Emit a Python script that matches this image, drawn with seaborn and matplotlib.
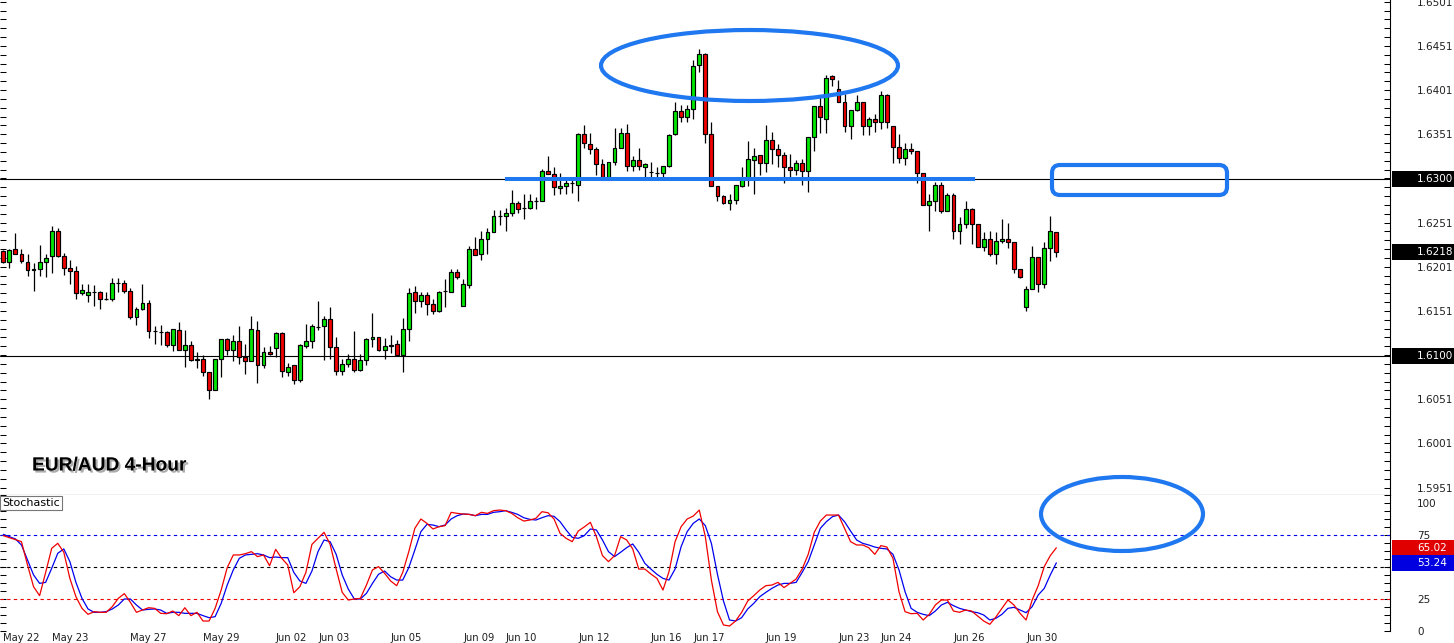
import numpy as np
import pandas as pd
import matplotlib
matplotlib.use('Agg')
import matplotlib.pyplot as plt
import matplotlib.transforms as mtransforms
from matplotlib import patheffects as pe
from matplotlib.patches import Ellipse, FancyBboxPatch, Rectangle
from matplotlib.ticker import FixedLocator, FixedFormatter, MultipleLocator, FormatStrFormatter
import seaborn as sns

sns.set_theme(style='white')
plt.rcParams['font.family'] = ['DejaVu Sans']

# EUR/AUD 4-hour candles
opens = [
    1.6219, 1.6207, 1.6221, 1.6216, 1.6207, 1.6197, 1.6198, 1.6207, 1.6213, 1.6242,
    1.6213, 1.6200, 1.6196, 1.6171, 1.6169, 1.6172, 1.6172, 1.6165, 1.6165, 1.6183,
    1.6183, 1.6174, 1.6144, 1.6153, 1.6160, 1.6128, 1.6127, 1.6127, 1.6112, 1.6130,
    1.6107, 1.6113, 1.6095, 1.6097, 1.6082, 1.6061, 1.6097, 1.6119, 1.6107, 1.6117,
    1.6099, 1.6094, 1.6130, 1.6090, 1.6105, 1.6109, 1.6126, 1.6082, 1.6090, 1.6073,
    1.6111, 1.6117, 1.6133, 1.6134, 1.6142, 1.6110, 1.6083, 1.6091, 1.6097, 1.6084,
    1.6095, 1.6119, 1.6122, 1.6107, 1.6111, 1.6114, 1.6101, 1.6131, 1.6172, 1.6162,
    1.6169, 1.6159, 1.6151, 1.6174, 1.6173, 1.6195, 1.6157, 1.6180, 1.6221, 1.6215,
    1.6232, 1.6240, 1.6258, 1.6258, 1.6262, 1.6273, 1.6267, 1.6267, 1.6276, 1.6275,
    1.6310, 1.6306, 1.6290, 1.6292, 1.6296, 1.6294, 1.6351, 1.6340, 1.6334, 1.6317,
    1.6303, 1.6320, 1.6336, 1.6353, 1.6315, 1.6322, 1.6314, 1.6308, 1.6307, 1.6307,
    1.6315, 1.6351, 1.6377, 1.6370, 1.6380, 1.6429, 1.6442, 1.6351, 1.6293, 1.6281,
    1.6273, 1.6277, 1.6293, 1.6301, 1.6322, 1.6327, 1.6318, 1.6344, 1.6334, 1.6328,
    1.6314, 1.6311, 1.6318, 1.6309, 1.6348, 1.6383, 1.6368, 1.6417, 1.6402, 1.6388,
    1.6360, 1.6378, 1.6387, 1.6360, 1.6368, 1.6365, 1.6395, 1.6360, 1.6337, 1.6324,
    1.6334, 1.6332, 1.6307, 1.6271, 1.6275, 1.6294, 1.6264, 1.6282, 1.6241, 1.6249,
    1.6266, 1.6250, 1.6223, 1.6233, 1.6215, 1.6230, 1.6233, 1.6229, 1.6198, 1.6156,
    1.6176, 1.6212, 1.6181, 1.6222, 1.6240]
highs = [
    1.6220, 1.6221, 1.6239, 1.6221, 1.6216, 1.6205, 1.6226, 1.6215, 1.6247, 1.6245,
    1.6217, 1.6209, 1.6202, 1.6181, 1.6182, 1.6180, 1.6174, 1.6173, 1.6188, 1.6188,
    1.6186, 1.6177, 1.6155, 1.6181, 1.6163, 1.6134, 1.6135, 1.6128, 1.6131, 1.6139,
    1.6129, 1.6117, 1.6105, 1.6101, 1.6082, 1.6097, 1.6119, 1.6120, 1.6124, 1.6134,
    1.6114, 1.6145, 1.6140, 1.6110, 1.6111, 1.6127, 1.6127, 1.6092, 1.6090, 1.6114,
    1.6136, 1.6136, 1.6162, 1.6145, 1.6156, 1.6122, 1.6097, 1.6102, 1.6128, 1.6102,
    1.6120, 1.6149, 1.6122, 1.6120, 1.6124, 1.6118, 1.6143, 1.6177, 1.6179, 1.6172,
    1.6172, 1.6164, 1.6174, 1.6187, 1.6198, 1.6198, 1.6187, 1.6224, 1.6235, 1.6241,
    1.6245, 1.6265, 1.6265, 1.6267, 1.6288, 1.6275, 1.6283, 1.6283, 1.6280, 1.6312,
    1.6326, 1.6314, 1.6307, 1.6301, 1.6301, 1.6353, 1.6361, 1.6353, 1.6337, 1.6323,
    1.6320, 1.6358, 1.6358, 1.6363, 1.6326, 1.6335, 1.6319, 1.6320, 1.6314, 1.6315,
    1.6351, 1.6387, 1.6384, 1.6384, 1.6435, 1.6447, 1.6443, 1.6365, 1.6293, 1.6282,
    1.6283, 1.6294, 1.6314, 1.6343, 1.6335, 1.6327, 1.6361, 1.6354, 1.6340, 1.6331,
    1.6329, 1.6322, 1.6323, 1.6348, 1.6383, 1.6396, 1.6418, 1.6418, 1.6412, 1.6397,
    1.6378, 1.6396, 1.6387, 1.6370, 1.6374, 1.6400, 1.6397, 1.6360, 1.6351, 1.6341,
    1.6341, 1.6332, 1.6307, 1.6283, 1.6297, 1.6297, 1.6284, 1.6284, 1.6257, 1.6276,
    1.6267, 1.6250, 1.6240, 1.6241, 1.6240, 1.6255, 1.6251, 1.6229, 1.6198, 1.6179,
    1.6224, 1.6212, 1.6229, 1.6258, 1.6240]
lows = [
    1.6205, 1.6200, 1.6215, 1.6205, 1.6191, 1.6174, 1.6191, 1.6190, 1.6194, 1.6212,
    1.6192, 1.6181, 1.6164, 1.6169, 1.6161, 1.6157, 1.6153, 1.6163, 1.6162, 1.6173,
    1.6171, 1.6142, 1.6135, 1.6152, 1.6120, 1.6114, 1.6113, 1.6110, 1.6106, 1.6107,
    1.6088, 1.6094, 1.6086, 1.6077, 1.6051, 1.6061, 1.6076, 1.6101, 1.6094, 1.6091,
    1.6080, 1.6094, 1.6070, 1.6086, 1.6101, 1.6099, 1.6076, 1.6077, 1.6068, 1.6071,
    1.6109, 1.6109, 1.6130, 1.6095, 1.6097, 1.6079, 1.6079, 1.6088, 1.6082, 1.6083,
    1.6090, 1.6110, 1.6106, 1.6097, 1.6103, 1.6101, 1.6082, 1.6117, 1.6149, 1.6156,
    1.6146, 1.6148, 1.6150, 1.6155, 1.6173, 1.6187, 1.6157, 1.6177, 1.6214, 1.6209,
    1.6216, 1.6240, 1.6248, 1.6241, 1.6258, 1.6262, 1.6255, 1.6266, 1.6266, 1.6275,
    1.6306, 1.6282, 1.6283, 1.6283, 1.6284, 1.6275, 1.6335, 1.6329, 1.6305, 1.6303,
    1.6303, 1.6316, 1.6336, 1.6310, 1.6310, 1.6311, 1.6303, 1.6302, 1.6302, 1.6302,
    1.6314, 1.6350, 1.6365, 1.6365, 1.6368, 1.6421, 1.6341, 1.6293, 1.6275, 1.6272,
    1.6265, 1.6272, 1.6291, 1.6292, 1.6283, 1.6305, 1.6308, 1.6317, 1.6314, 1.6296,
    1.6303, 1.6305, 1.6294, 1.6286, 1.6332, 1.6352, 1.6352, 1.6406, 1.6388, 1.6354,
    1.6346, 1.6377, 1.6350, 1.6350, 1.6354, 1.6357, 1.6358, 1.6318, 1.6319, 1.6316,
    1.6329, 1.6296, 1.6271, 1.6241, 1.6264, 1.6262, 1.6264, 1.6233, 1.6227, 1.6245,
    1.6227, 1.6223, 1.6219, 1.6213, 1.6204, 1.6228, 1.6222, 1.6194, 1.6188, 1.6151,
    1.6176, 1.6173, 1.6177, 1.6208, 1.6212]
closes = [
    1.6207, 1.6220, 1.6216, 1.6208, 1.6197, 1.6199, 1.6207, 1.6211, 1.6242, 1.6213,
    1.6200, 1.6196, 1.6171, 1.6175, 1.6172, 1.6172, 1.6165, 1.6165, 1.6183, 1.6183,
    1.6174, 1.6144, 1.6153, 1.6160, 1.6128, 1.6128, 1.6127, 1.6112, 1.6131, 1.6107,
    1.6113, 1.6095, 1.6097, 1.6082, 1.6061, 1.6097, 1.6119, 1.6107, 1.6117, 1.6099,
    1.6094, 1.6131, 1.6090, 1.6105, 1.6102, 1.6126, 1.6083, 1.6088, 1.6073, 1.6112,
    1.6117, 1.6134, 1.6133, 1.6142, 1.6110, 1.6083, 1.6091, 1.6097, 1.6084, 1.6095,
    1.6119, 1.6122, 1.6107, 1.6111, 1.6113, 1.6101, 1.6131, 1.6171, 1.6162, 1.6169,
    1.6159, 1.6151, 1.6173, 1.6174, 1.6195, 1.6189, 1.6181, 1.6221, 1.6214, 1.6232,
    1.6240, 1.6258, 1.6258, 1.6262, 1.6273, 1.6266, 1.6267, 1.6276, 1.6276, 1.6310,
    1.6306, 1.6291, 1.6292, 1.6296, 1.6296, 1.6351, 1.6341, 1.6334, 1.6317, 1.6303,
    1.6320, 1.6336, 1.6353, 1.6315, 1.6322, 1.6315, 1.6317, 1.6308, 1.6307, 1.6315,
    1.6350, 1.6377, 1.6370, 1.6380, 1.6428, 1.6442, 1.6351, 1.6293, 1.6281, 1.6273,
    1.6277, 1.6294, 1.6301, 1.6323, 1.6326, 1.6318, 1.6344, 1.6334, 1.6328, 1.6314,
    1.6311, 1.6318, 1.6309, 1.6348, 1.6383, 1.6370, 1.6415, 1.6414, 1.6388, 1.6360,
    1.6378, 1.6387, 1.6360, 1.6368, 1.6365, 1.6395, 1.6365, 1.6337, 1.6324, 1.6334,
    1.6332, 1.6307, 1.6271, 1.6276, 1.6294, 1.6264, 1.6282, 1.6241, 1.6249, 1.6266,
    1.6250, 1.6223, 1.6233, 1.6215, 1.6230, 1.6233, 1.6229, 1.6198, 1.6190, 1.6176,
    1.6212, 1.6181, 1.6222, 1.6241, 1.6218]

# stochastic main (red) and signal (blue)
stoch_k = [
    74.5, 72.9, 71.4, 69.8, 51.6, 34.6, 27.6, 45.8, 64.6, 68.5,
    61.5, 41.1, 26.8, 17.7, 13.0, 15.1, 14.6, 14.6, 19.0, 25.5,
    29.2, 22.4, 14.6, 16.4, 18.2, 17.7, 13.8, 13.5, 15.6, 12.0,
    18.2, 12.0, 14.6, 7.8, 7.8, 17.7, 32.0, 49.5, 59.4, 59.4,
    60.4, 62.0, 58.1, 59.4, 51.0, 63.8, 56.8, 51.6, 29.9, 34.6,
    45.8, 67.7, 72.4, 77.1, 67.7, 48.4, 30.2, 24.2, 25.0, 25.5,
    35.9, 47.7, 50.3, 45.1, 39.1, 35.4, 45.8, 62.0, 80.2, 87.5,
    84.1, 79.7, 81.5, 82.3, 92.7, 91.9, 91.4, 91.1, 90.1, 92.7,
    91.9, 94.0, 94.5, 94.0, 91.9, 88.5, 85.9, 86.7, 88.0, 93.2,
    92.4, 87.5, 76.3, 72.4, 69.8, 78.1, 81.3, 84.9, 73.7, 58.9,
    54.2, 58.9, 73.7, 71.1, 64.1, 48.4, 48.4, 44.5, 41.1, 32.0,
    46.4, 69.8, 81.5, 87.5, 89.8, 94.5, 73.7, 39.8, 15.1, 4.7,
    3.9, 7.8, 14.6, 23.4, 27.6, 32.0, 35.4, 35.9, 38.0, 33.9,
    37.2, 40.6, 48.4, 59.9, 77.1, 85.9, 90.6, 90.6, 90.6, 80.2,
    69.8, 67.2, 67.2, 65.1, 59.9, 66.7, 65.6, 56.8, 30.7, 15.1,
    13.5, 13.8, 8.6, 13.0, 20.3, 24.2, 24.2, 15.6, 14.6, 16.4,
    15.6, 11.7, 7.8, 5.2, 10.9, 17.7, 24.2, 20.3, 13.8, 8.6,
    24.2, 35.4, 50.3, 58.9, 65.02]
stoch_d = [
    75.5, 73.7, 71.9, 67.2, 55.5, 43.8, 37.2, 38.0, 49.0, 60.7,
    64.1, 54.2, 38.0, 25.5, 17.2, 14.6, 14.6, 15.1, 17.2, 20.3,
    25.0, 25.0, 20.3, 16.4, 16.9, 17.2, 16.4, 13.8, 14.6, 14.6,
    13.8, 13.8, 13.8, 12.0, 10.4, 11.2, 21.6, 35.9, 47.7, 56.8,
    59.4, 59.9, 60.4, 59.4, 57.3, 57.8, 57.3, 57.3, 45.8, 39.1,
    37.2, 46.9, 62.0, 71.1, 69.8, 59.9, 43.8, 32.8, 25.0, 25.0,
    29.4, 37.2, 44.3, 46.9, 42.4, 39.8, 39.8, 49.5, 63.3, 77.6,
    83.3, 82.8, 81.5, 82.8, 87.5, 90.1, 91.4, 91.1, 90.1, 91.1,
    91.1, 92.7, 93.2, 94.0, 92.7, 91.1, 88.5, 87.2, 86.7, 88.5,
    90.1, 89.6, 85.4, 78.9, 73.2, 72.4, 74.5, 79.7, 78.9, 71.1,
    62.0, 58.1, 61.5, 65.1, 68.0, 61.5, 52.9, 48.4, 44.3, 41.1,
    39.8, 48.4, 65.9, 77.6, 84.1, 87.5, 82.3, 68.5, 44.3, 23.4,
    8.6, 7.8, 10.4, 17.2, 21.6, 26.8, 30.2, 33.3, 35.9, 37.2,
    37.2, 38.0, 45.8, 54.2, 67.2, 80.2, 85.4, 89.3, 90.6, 85.4,
    78.1, 71.1, 68.5, 67.2, 65.6, 64.6, 64.1, 59.9, 47.7, 30.7,
    17.7, 14.6, 13.0, 12.0, 15.6, 20.3, 22.4, 19.8, 17.7, 16.4,
    15.1, 14.3, 12.5, 8.6, 9.9, 13.0, 17.7, 18.5, 16.4, 14.3,
    19.0, 28.1, 33.3, 43.8, 53.24]

date_labels = ['May 22', 'May 23', 'May 27', 'May 29', 'Jun 02', 'Jun 03', 'Jun 05',
               'Jun 09', 'Jun 10', 'Jun 12', 'Jun 16', 'Jun 17', 'Jun 19', 'Jun 23',
               'Jun 24', 'Jun 26', 'Jun 30']
date_bars = [0, 8, 21, 33, 45, 52, 64, 76, 83, 95, 107, 114, 126, 138, 145, 157, 169]
price_ticks = [1.5951, 1.6001, 1.6051, 1.6151, 1.6201, 1.6251, 1.6351, 1.6401, 1.6451, 1.6501]
stoch_ticks = [0, 25, 50, 75, 100]
stoch_tick_labels = ['0', '25', '', '75', '100']  # 50 sits under the signal box
levels = [1.6300, 1.6100]
neckline = 1.6300
last_price = 1.6218

df = pd.DataFrame({'open': opens, 'high': highs, 'low': lows, 'close': closes,
                   'k': stoch_k, 'd': stoch_d})
df['bar'] = np.arange(len(df))
df['bottom'] = df[['open', 'close']].min(axis=1)
df['height'] = (df['close'] - df['open']).abs()
df['color'] = np.where(df['close'] >= df['open'], '#00e600', '#f00000')

W, H = 1454, 643
BLUE = '#1f78f0'
fig = plt.figure(figsize=(W / 100, H / 100), dpi=100)
fig.patch.set_facecolor('white')

ax = fig.add_axes([0, 1 - 495 / H, 1390 / W, 495 / H])
ax2 = fig.add_axes([0, 1 - 631 / H, 1390 / W, 136 / H])
xlim = (-0.545, 229.13)

# candles
ax.vlines(df['bar'], df['low'], df['high'], colors='black', linewidth=0.9, zorder=2)
ax.bar(df['bar'], df['height'], bottom=df['bottom'], width=0.64, color=df['color'],
       edgecolor='black', linewidth=0.85, zorder=3)
for lv in levels:
    ax.axhline(lv, color='black', linewidth=0.8, zorder=1)
ax.hlines(neckline, 82.9, 160.5, color=BLUE, linewidth=2.9, zorder=4)

ax.set_xlim(*xlim)
ax.set_ylim(1.59427, 1.6503)
ax.yaxis.set_major_locator(FixedLocator(price_ticks))
ax.yaxis.set_minor_locator(FixedLocator(np.arange(1.5941, 1.6502, 0.001)))
ax.yaxis.set_major_formatter(FormatStrFormatter('%.4f'))

# stochastic
sns.lineplot(data=df, x='bar', y='d', ax=ax2, color='#0000f0', linewidth=0.9, zorder=3)
sns.lineplot(data=df, x='bar', y='k', ax=ax2, color='#f00000', linewidth=0.9, zorder=4)
for lv, c in zip([75, 50, 25], ['#0000f0', 'black', '#f00000']):
    ax2.axhline(lv, color=c, linewidth=0.8, linestyle=(0, (3, 3)), zorder=2)
ax2.set_xlim(*xlim)
ax2.set_ylim(0, 106.25)
ax2.set_xlabel('')
ax2.set_ylabel('')
ax2.yaxis.set_major_locator(FixedLocator(stoch_ticks))
ax2.yaxis.set_major_formatter(FixedFormatter(stoch_tick_labels))
ax2.yaxis.set_minor_locator(MultipleLocator(6.25))
ax2.set_xticks(date_bars)
ax2.set_xticklabels(date_labels, ha='left', fontsize=7.2, color='#202020')
ax2.tick_params(axis='x', bottom=True, length=0, pad=1.2)

for a in (ax, ax2):
    a.set_facecolor('white')
    a.tick_params(axis='y', which='both', left=True, right=True, labelleft=False,
                  labelright=True, direction='in', length=4, width=0.75, color='black',
                  pad=19.4, labelsize=7.5, labelcolor='#202020')
    for s in ['top', 'left']:
        a.spines[s].set_visible(False)
    a.spines['right'].set_color('black')
    a.spines['right'].set_linewidth(0.8)
ax.tick_params(axis='x', bottom=False, labelbottom=False)
ax.spines['bottom'].set_color('black')
ax.spines['bottom'].set_linewidth(0.8)
ax2.spines['bottom'].set_visible(False)


def price_box(axis, value, text, fc, h):
    tr = mtransforms.blended_transform_factory(axis.transAxes, axis.transData)
    axis.add_patch(Rectangle((1392 / 1390, value - h / 2), 62 / 1390, h, transform=tr,
                             facecolor=fc, edgecolor='none', clip_on=False, zorder=6))
    axis.text(1417 / 1390, value, text, transform=tr, color='white', fontsize=7.5,
              ha='left', va='center', clip_on=False, zorder=7)


for lv in levels:
    price_box(ax, lv, f'{lv:.4f}', 'black', 0.00178)
price_box(ax, last_price, f'{last_price:.4f}', 'black', 0.00178)
price_box(ax2, stoch_k[-1], f'{stoch_k[-1]:.2f}', '#e00000', 12.0)
price_box(ax2, stoch_d[-1], f'{stoch_d[-1]:.2f}', '#0000e0', 12.0)

st = ax2.text(0.0015, 1 - 3 / 136, 'Stochastic', transform=ax2.transAxes, ha='left',
              va='top', fontsize=8, color='black', zorder=8,
              bbox=dict(boxstyle='square,pad=0.15', fc='white', ec='#777777', lw=0.8))
st.get_bbox_patch().set_path_effects([
    pe.withSimplePatchShadow(offset=(1.2, -1.2), shadow_rgbFace='#999999', alpha=1.0)])

fig.text(32 / W, 1 - 466 / H, 'EUR/AUD 4-Hour', fontsize=13.8, fontweight='bold',
         family=['Liberation Sans', 'DejaVu Sans'], ha='left', va='center', color='black',
         path_effects=[pe.withSimplePatchShadow(offset=(1.5, -1.5),
                                                shadow_rgbFace='#888888', alpha=0.7)])

# hand-drawn annotations (pixel space overlay)
ov = fig.add_axes([0, 0, 1, 1], zorder=10)
ov.set_xlim(0, W)
ov.set_ylim(H, 0)
ov.set_axis_off()
ov.add_patch(Ellipse((749.5, 65.5), 297, 71, fill=False, edgecolor=BLUE, linewidth=3.0))
ov.add_patch(Ellipse((1122, 514), 162, 74, fill=False, edgecolor=BLUE, linewidth=3.0))
ov.add_patch(FancyBboxPatch((1052, 165), 175, 30, boxstyle='round,pad=0,rounding_size=8',
                            fill=False, edgecolor=BLUE, linewidth=3.0))

fig.savefig('out.png', dpi=100, facecolor='white')
